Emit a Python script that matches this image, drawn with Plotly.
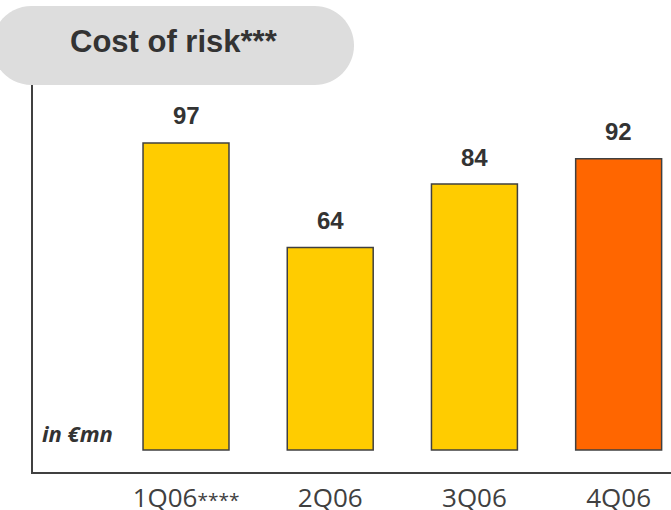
import plotly.graph_objects as go

# Quarterly cost of risk, in € millions
categories = ["1Q06****", "2Q06", "3Q06", "4Q06"]
values = [97, 64, 84, 92]
bar_colors = ["#FFCC00", "#FFCC00", "#FFCC00", "#FF6600"]

title_text = "Cost of risk***"
unit_text = "in €mn"

W, H = 671, 510
ML, MR, MT, MB = 33, 0, 85, 38
plot_w = W - ML - MR
plot_h = H - MT - MB


def xp(px):
    """Pixel x -> paper x."""
    return (px - ML) / plot_w


def yp(py):
    """Pixel y (from top) -> paper y."""
    return (H - MB - py) / plot_h


def pill_path(left, top, right, bottom):
    r = (bottom - top) / 2.0
    cy = (top + bottom) / 2.0
    k = 0.5523 * r
    pts = [
        f"M {xp(left + r)} {yp(top)}",
        f"L {xp(right - r)} {yp(top)}",
        f"C {xp(right - r + k)} {yp(top)} {xp(right)} {yp(cy - k)} {xp(right)} {yp(cy)}",
        f"C {xp(right)} {yp(cy + k)} {xp(right - r + k)} {yp(bottom)} {xp(right - r)} {yp(bottom)}",
        f"L {xp(left + r)} {yp(bottom)}",
        f"C {xp(left + r - k)} {yp(bottom)} {xp(left)} {yp(cy + k)} {xp(left)} {yp(cy)}",
        f"C {xp(left)} {yp(cy - k)} {xp(left + r - k)} {yp(top)} {xp(left + r)} {yp(top)}",
        "Z",
    ]
    return " ".join(pts)


def tick_label(cat):
    """Render trailing footnote asterisks in a smaller size."""
    base = cat.rstrip("*")
    stars = cat[len(base):]
    if stars:
        return f'{base}<span style="font-size:19px">{stars}</span>'
    return base


fig = go.Figure()
fig.add_trace(
    go.Bar(
        x=categories,
        y=values,
        width=0.596,
        marker=dict(color=bar_colors, line=dict(color="#404040", width=1.5)),
        hoverinfo="skip",
    )
)

annotations = []
for cat, val in zip(categories, values):
    annotations.append(
        dict(
            x=cat, y=val, xref="x", yref="y",
            text=str(val), showarrow=False,
            yanchor="middle", yshift=27,
            font=dict(family="Liberation Sans", size=24, color="#333333", weight="bold"),
        )
    )

annotations.append(
    dict(
        x=xp(40), y=yp(433), xref="paper", yref="paper",
        text=f"<i>{unit_text}</i>", showarrow=False,
        xanchor="left", yanchor="middle",
        font=dict(family="Open Sans", size=22, color="#333333", weight="bold"),
    )
)

annotations.append(
    dict(
        x=xp(174), y=yp(42), xref="paper", yref="paper",
        text=title_text, showarrow=False,
        xanchor="center", yanchor="middle",
        font=dict(family="Liberation Sans", size=31, color="#333333", weight="bold"),
    )
)

fig.update_layout(
    width=W, height=H, autosize=False,
    margin=dict(l=ML, r=MR, t=MT, b=MB, pad=0, autoexpand=False),
    paper_bgcolor="white", plot_bgcolor="white",
    showlegend=False,
    annotations=annotations,
    shapes=[
        dict(
            type="path", xref="paper", yref="paper",
            path=pill_path(-8, 6, 354, 85),
            fillcolor="#DDDDDD", line=dict(width=0), layer="above",
        )
    ],
    xaxis=dict(
        range=[-1.061, 3.363], showgrid=False, zeroline=False,
        showline=True, linecolor="#404040", linewidth=2,
        ticks="", ticklabelstandoff=2, automargin=False,
        tickvals=categories, ticktext=[tick_label(c) for c in categories],
        tickfont=dict(family="Open Sans", size=26, color="#404040"),
        fixedrange=True,
    ),
    yaxis=dict(
        range=[-6.95, 115.3], showgrid=False, zeroline=False,
        showline=True, linecolor="#404040", linewidth=2, automargin=False,
        showticklabels=False, ticks="", fixedrange=True,
    ),
)

fig.write_html("out.html")
